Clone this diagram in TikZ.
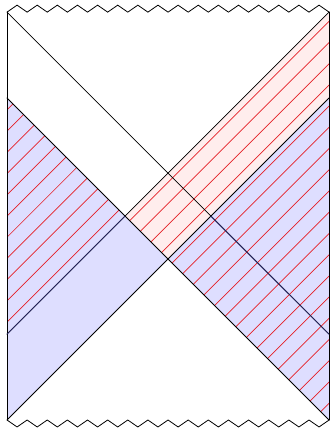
\documentclass[tikz,border=0pt]{standalone}
\usepackage{tkz-euclide}
\usetikzlibrary{calc}
\definecolor{ShellClr}{rgb}{0.87,0.87,1}
\definecolor{InfallClr}{rgb}{1,0.93,0.93}
\definecolor{HatchClr}{rgb}{0.9,0.12,0.15}
\definecolor{DarkClr}{rgb}{0.15,0.15,0.38}

\begin{document}
\begin{tikzpicture}[scale=1.8861]
\useasboundingbox (-0.1304,-0.1863) rectangle (6.0745,7.8236);

\tkzDefPoint(0,0){A}
\tkzDefPoint(6,0){B}
\tkzDefPoint(6,7.6){C}
\tkzDefPoint(0,7.6){D}

\tkzDefPoint(0,1.6){E}
\tkzDefPoint(0,6){F}
\tkzDefPoint(6,1.6){G}
\tkzDefPoint(6,6){H}

\tkzInterLL(F,B)(E,C) \tkzGetPoint{I1}
\tkzInterLL(F,B)(A,H) \tkzGetPoint{I2}
\tkzInterLL(D,G)(A,H) \tkzGetPoint{I3}

\tkzFillPolygon[fill=ShellClr](F,I2,A)
\tkzFillPolygon[fill=ShellClr](H,I2,B)
\tkzFillPolygon[fill=InfallClr](I1,C,H,I2)

\begin{scope}
\clip (F) -- (I1) -- (C) -- (B) -- (I2) -- (I1) -- (E) -- cycle;
\foreach \m in {-16,...,19}
  \draw[HatchClr,line width=0.7pt] (-1,{-0.7582+0.3953*\m}) -- (8,{8.2418+0.3953*\m});
\end{scope}

\tkzDrawSegments[line width=0.8pt,color=black](D,G F,B E,C A,H A,D B,C)
\tkzDrawSegments[line width=0.8pt,color=DarkClr](E,I1 I3,G)

\draw[line width=0.8pt] (D) \foreach \k in {1,...,16}{ -- ++(0.1875,0.13) -- ++(0.1875,-0.13)};
\draw[line width=0.8pt] (A) \foreach \k in {1,...,16}{ -- ++(0.1875,-0.13) -- ++(0.1875,0.13)};

\end{tikzpicture}
\end{document}
